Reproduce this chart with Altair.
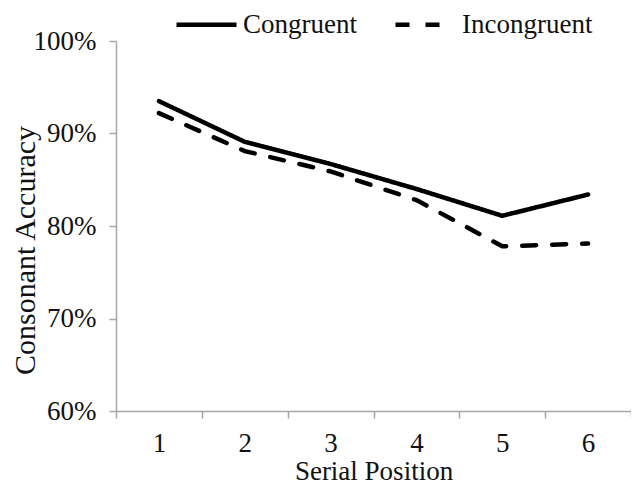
import altair as alt
import pandas as pd

positions = ["1", "2", "3", "4", "5", "6"]
congruent = [0.935, 0.891, 0.867, 0.840, 0.811, 0.834]
incongruent = [0.922, 0.881, 0.859, 0.828, 0.778, 0.781]
series = ["Congruent", "Incongruent"]

rows = []
for p, c, i in zip(positions, congruent, incongruent):
    rows.append({"pos": p, "acc": c, "cond": series[0]})
    rows.append({"pos": p, "acc": i, "cond": series[1]})
df = pd.DataFrame(rows)

FONT = "Times New Roman, Liberation Serif, Tinos, DejaVu Serif, serif"
FS = 27
TXT = "#111111"
AX = "#a6a6a6"

common_axis = dict(labelFont=FONT, labelFontSize=FS, labelColor=TXT,
                   titleFont=FONT, titleColor=TXT, titleFontWeight="normal",
                   domainColor=AX, domainWidth=1.5, tickColor=AX, tickWidth=1.5,
                   tickSize=7, grid=False)

chart = alt.Chart(df).mark_line(color="black", strokeWidth=4.5, strokeCap="round").encode(
    x=alt.X("pos:O", sort=positions,
            scale=alt.Scale(type="band", paddingInner=0, paddingOuter=0),
            axis=alt.Axis(title="Serial Position", labelAngle=0, tickBand="extent",
                          labelPadding=12, titleY=68, titleBaseline="alphabetic",
                          titleFontSize=27, **common_axis)),
    y=alt.Y("acc:Q", scale=alt.Scale(domain=[0.6, 1.0], nice=False, zero=False),
            axis=alt.Axis(title="Consonant Accuracy", format=".0%", values=[0.6, 0.7, 0.8, 0.9, 1.0],
                          labelPadding=13, titleX=-91, titleY=209, titleBaseline="middle",
                          titleAngle=270, titleFontSize=30, **common_axis)),
    strokeDash=alt.StrokeDash("cond:N",
        scale=alt.Scale(domain=series, range=[[1, 0], [14, 16]]),
        legend=alt.Legend(title=None, orient="none", direction="horizontal",
                          legendX=58, legendY=-49, symbolType="stroke", symbolSize=3600,
                          symbolStrokeWidth=4.5, symbolStrokeColor="black",
                          labelFont=FONT, labelFontSize=FS, labelColor=TXT,
                          labelOffset=4, columnPadding=29)),
).properties(
    width=515, height=370,
    autosize=alt.AutoSizeParams(type="none"),
    padding={"left": 108, "top": 33, "right": 0, "bottom": 74},
).configure(font=FONT).configure_view(stroke=None)

chart.save("out.html", embed_options={"renderer": "svg", "actions": False})
